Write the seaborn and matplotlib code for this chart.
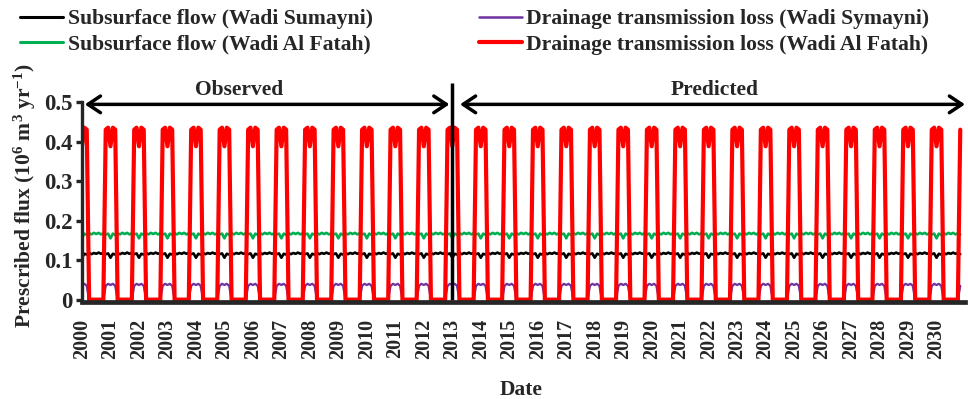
import numpy as np
import pandas as pd
import matplotlib
matplotlib.use("Agg")
import matplotlib.pyplot as plt
import seaborn as sns
from matplotlib.lines import Line2D

# ---------------- data ----------------
start_year = 2000
n_months = 371            # Jan 2000 .. Nov 2030, monthly values
split_year = 2013         # observed / predicted boundary

# one year of monthly values (Jan..Dec); the series repeats every year
sub_sumayni = [0.106, 0.116, 0.114, 0.118, 0.115, 0.118, 0.116, 0.119, 0.116, 0.118, 0.115, 0.117]
sub_fatah   = [0.155, 0.167, 0.164, 0.168, 0.165, 0.169, 0.166, 0.169, 0.165, 0.168, 0.165, 0.167]
dtl_sumayni = [0.037, 0.040, 0.035, 0.0, 0.0, 0.0, 0.0, 0.0, 0.0, 0.0, 0.035, 0.040]
dtl_fatah   = [0.388, 0.435, 0.430, 0.0, 0.0, 0.0, 0.0, 0.0, 0.0, 0.0, 0.430, 0.435]

series_names = [
    "Subsurface flow (Wadi Sumayni)",
    "Subsurface flow (Wadi Al Fatah)",
    "Drainage transmission loss (Wadi Symayni)",
    "Drainage transmission loss (Wadi Al Fatah)",
]
year_ticks = list(range(2000, 2031))
y_ticks = [0, 0.1, 0.2, 0.3, 0.4, 0.5]
y_tick_labels = ["0", "0.1", "0.2", "0.3", "0.4", "0.5"]

# ---------------- build table ----------------
t = start_year + np.arange(n_months) / 12.0
n_years = int(np.ceil(n_months / 12))
patterns = [sub_sumayni, sub_fatah, dtl_sumayni, dtl_fatah]
frames = []
for name, pat in zip(series_names, patterns):
    vals = np.tile(pat, n_years)[:n_months]
    frames.append(pd.DataFrame({"date": t, "flux": vals, "series": name}))
df = pd.concat(frames, ignore_index=True)

# ---------------- style ----------------
sns.set_style("ticks")
plt.rcParams["font.family"] = ["Liberation Serif", "DejaVu Serif"]
plt.rcParams["font.weight"] = "bold"
plt.rcParams["mathtext.fontset"] = "custom"
plt.rcParams["mathtext.rm"] = "Liberation Serif:bold"
plt.rcParams["mathtext.it"] = "Liberation Serif:bold:italic"
plt.rcParams["mathtext.bf"] = "Liberation Serif:bold"
plt.rcParams["mathtext.default"] = "rm"

colors = ["#000000", "#00B050", "#7030A0", "#FF0000"]
widths = [1.9, 1.9, 1.6, 3.0]

fig = plt.figure(figsize=(9.68, 3.99), dpi=100)
ax = fig.add_axes([82 / 968, 1 - 302 / 399, (965 - 82) / 968, 200 / 399])

for name, c, w in zip(series_names, colors, widths):
    sns.lineplot(data=df[df["series"] == name], x="date", y="flux", color=c,
                 lw=w, ax=ax, legend=False, estimator=None, sort=False)

ax.set_xlim(2000, 2031)
ax.set_ylim(-0.006, 0.5)
ax.set_yticks(y_ticks)
ax.set_yticklabels(y_tick_labels)
ax.set_xticks(year_ticks)
ax.set_xticklabels([str(y) for y in year_ticks], rotation=90)

for s in ["top", "right"]:
    ax.spines[s].set_visible(False)
ax.spines["left"].set_linewidth(2.4)
ax.spines["bottom"].set_linewidth(3.4)
ax.spines["left"].set_bounds(-0.006, 0.5)

ax.tick_params(axis="y", length=4, width=2.4, pad=3, labelsize=16.5)
ax.tick_params(axis="x", length=0, pad=12, labelsize=14.5)
for lab in ax.get_xticklabels() + ax.get_yticklabels():
    lab.set_fontweight("bold")

ax.set_xlabel("Date", fontsize=15.5, fontweight="bold")
ax.xaxis.set_label_coords(0.497, -0.39)
ax.set_ylabel("Prescribed flux (10$^{6}$ m$^{3}$ yr$^{-1}$)", fontsize=15.5, fontweight="bold")
ax.yaxis.set_label_coords(-0.05, 0.53)

# observed / predicted separator and arrows
ax.vlines(split_year, 0, 0.548, color="black", lw=2.5, clip_on=False)
arrow_kw = dict(arrowstyle="<->,head_length=0.45,head_width=0.3", lw=2.5,
                color="black", shrinkA=0, shrinkB=0, mutation_scale=20)
ax.annotate("", xy=(2000.1, 0.494), xytext=(2012.9, 0.494),
            arrowprops=arrow_kw, annotation_clip=False)
ax.annotate("", xy=(2013.27, 0.494), xytext=(2031.0, 0.494),
            arrowprops=arrow_kw, annotation_clip=False)
ax.text(2005.5, 0.53, "Observed", ha="center", va="center", fontsize=15.5,
        fontweight="bold", clip_on=False)
ax.text(2022.2, 0.53, "Predicted", ha="center", va="center", fontsize=15.5,
        fontweight="bold", clip_on=False)

# legend
handles = [Line2D([], [], color=c, lw=lw) for c, lw in zip(colors, [2.2, 2.2, 1.8, 3.0])]
fig.legend(handles, series_names, ncol=2, loc="upper left",
           bbox_to_anchor=(20 / 968, 1 - 9 / 399), frameon=False,
           prop={"family": "Liberation Serif", "weight": "bold", "size": 15.6},
           handlelength=2.0, handletextpad=0.2, columnspacing=4.9,
           labelspacing=0.25, borderaxespad=0, borderpad=0)

fig.savefig("out.png", dpi=100, facecolor="white")
